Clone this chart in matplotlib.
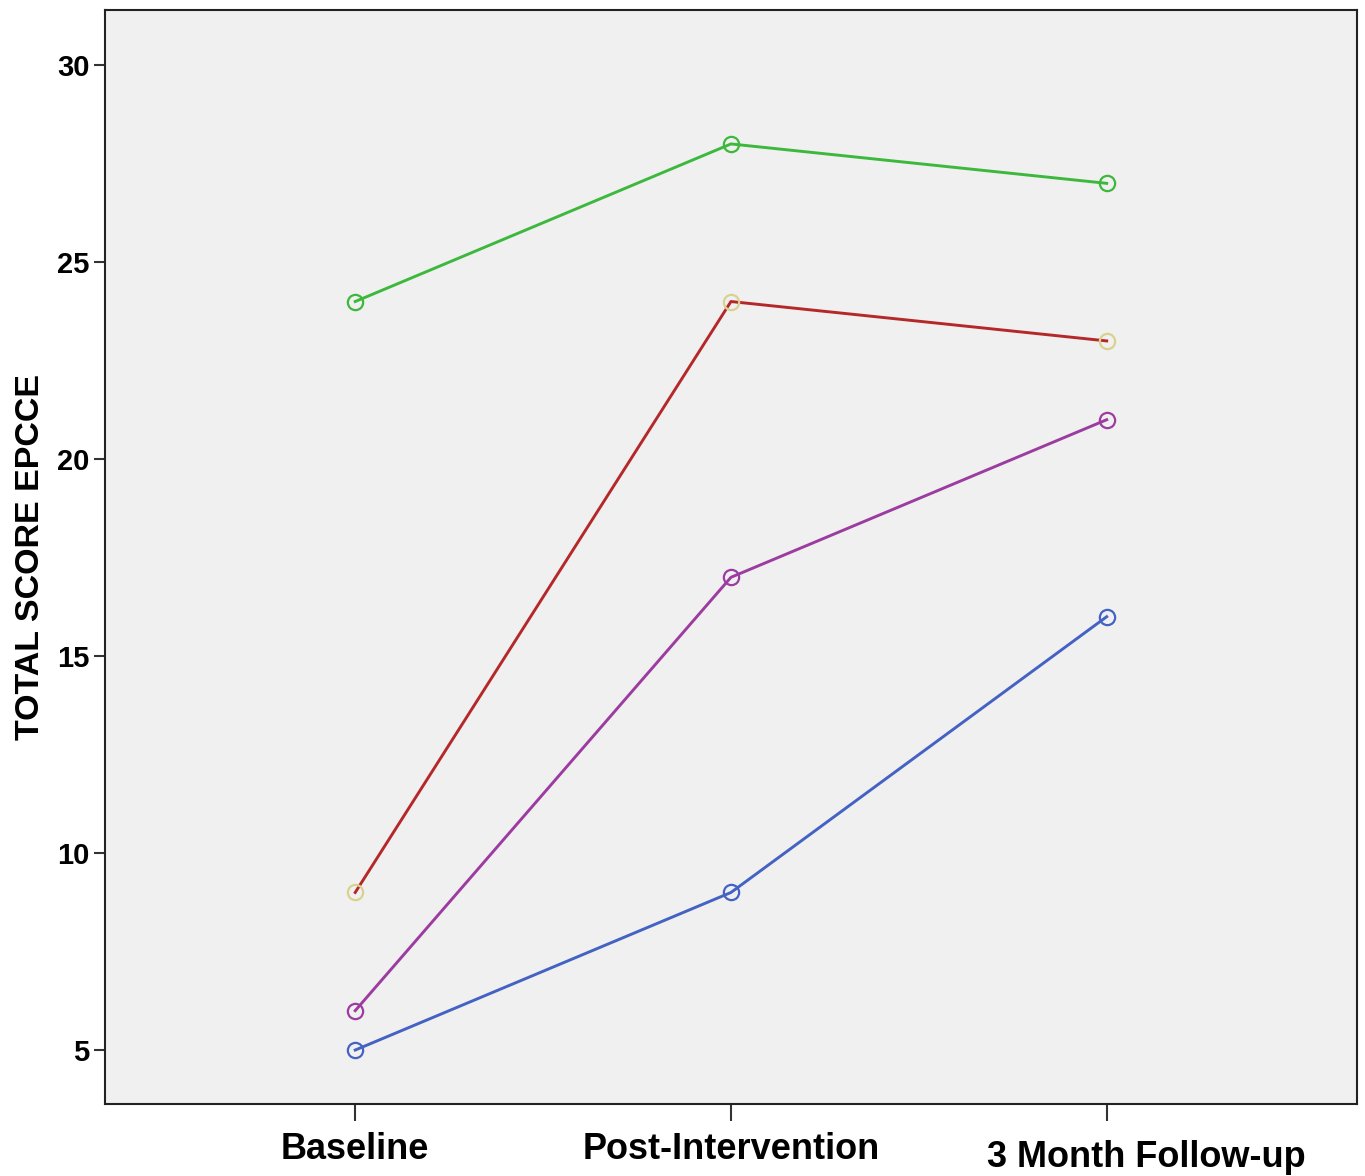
import matplotlib.pyplot as plt
import matplotlib.transforms as mtransforms
from matplotlib import font_manager

# data
timepoints = ['Baseline', 'Post-Intervention', '3 Month Follow-up']
green_scores = [24, 28, 27]
red_scores = [9, 24, 23]
purple_scores = [6, 17, 21]
blue_scores = [5, 9, 16]

yticks = [5, 10, 15, 20, 25, 30]

names = {f.name for f in font_manager.fontManager.ttflist}
narrow = 'Liberation Sans Narrow' if 'Liberation Sans Narrow' in names else 'Liberation Sans'

fig = plt.figure(figsize=(13.65, 11.76), dpi=100)
ax = fig.add_axes([0.0769, 0.0612, 0.9172, 0.9303])
ax.set_facecolor('#f0f0f0')

x = list(range(len(timepoints)))

series = [
    (green_scores, '#3cb83c', '#3cb83c'),
    (red_scores, '#b5282a', '#d9d28e'),
    (purple_scores, '#9c3ca0', '#9c3ca0'),
    (blue_scores, '#4462c4', '#4462c4'),
]
for vals, lc, mc in series:
    ax.plot(x, vals, color=lc, lw=2.1, zorder=2)
    ax.plot(x, vals, ls='none', marker='o', ms=11, mfc='none', mec=mc, mew=1.6, zorder=3)

ax.set_xlim(-0.666, 2.666)
ax.set_ylim(3.63, 31.4)
ax.set_xticks(x)
ax.set_xticklabels(timepoints, fontfamily='Liberation Sans', fontweight='bold', fontsize=26)
ax.set_yticks(yticks)
ax.set_yticklabels([str(v) for v in yticks], fontfamily=narrow, fontweight='bold', fontsize=21)
ax.tick_params(axis='x', length=12, width=1.5, color='#333333', pad=8)
ax.tick_params(axis='y', length=8, width=1.5, color='#333333', pad=3)

# the last label sits a bit right and lower in the original
last = ax.get_xticklabels()[-1]
last.set_transform(last.get_transform() + mtransforms.ScaledTranslation(0.40, -0.08, fig.dpi_scale_trans))

ax.set_ylabel('TOTAL SCORE EPCCE', fontfamily='Liberation Sans', fontweight='bold', fontsize=24.5, labelpad=8)

for s in ax.spines.values():
    s.set_linewidth(1.5)
    s.set_color('#222222')

fig.savefig('out.png', dpi=100)
